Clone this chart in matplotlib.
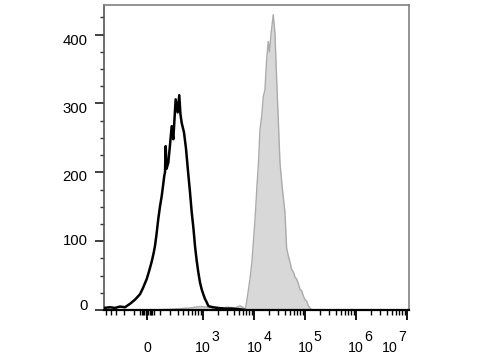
import numpy as np
import matplotlib
matplotlib.use("Agg")
import matplotlib.pyplot as plt
from matplotlib.ticker import FixedLocator, MultipleLocator, NullFormatter

plt.rcParams['font.family'] = ['Liberation Sans', 'DejaVu Sans']

# Unstained / control histogram (black outline)
ctrl_x = [-546, -410, -320, -248, -187, -135, -91, -51, -29, -2, 14.5, 34, 48, 59, 71,
          85, 99, 114, 126, 138, 145, 152, 160, 179, 198, 218, 238, 270, 300, 325, 344,
          366, 410, 451, 503, 545, 592, 643, 690, 745, 803, 869, 939, 1020, 1093, 1168,
          1269, 1371, 1571, 1970, 2700, 3720, 5330, 6650]
ctrl_y = [3, 4, 3, 5, 4, 9, 15, 23, 32, 45, 56, 70, 82, 93, 110,
          132, 150, 165, 180, 195, 200, 238, 205, 214, 240, 267, 248, 306, 287, 312, 285,
          272, 258, 235, 198, 172, 142, 118, 93, 72, 55, 40, 30, 22, 16, 12,
          6, 5, 4, 3, 2, 2, 1, 0]

# Stained histogram (gray filled)
stain_x = [22, 198, 338, 545, 866, 1371, 2160, 3100, 4240, 5330, 6080, 6650, 7140, 7650,
           8370, 9150, 10000, 10720, 11470, 12290, 13140, 14190, 15250, 16470, 17620,
           19100, 20170, 21590, 23940, 25850, 27920, 30290, 32420, 36260, 40580, 43820,
           47530, 50860, 54940, 59590, 63780, 68880, 74690, 79970, 86370, 93680, 100240,
           108240, 117300, 125600, 137600]
stain_y = [0, 1, 2, 3, 5, 4, 3, 4, 3, 6, 4, 0, 10, 25,
           45, 70, 110, 142, 180, 214, 262, 281, 310, 320, 360,
           390, 375, 400, 429, 402, 335, 270, 214, 175, 142, 90,
           78, 70, 59, 55, 48, 45, 38, 30, 28, 20, 15,
           13, 6, 3, 0]

x_major = [0, 1e3, 1e4, 1e5, 1e6, 1e7]
x_base = ['0', '10', '10', '10', '10', '10']
x_exp = ['', '3', '4', '5', '6', '7']
y_major = [0, 100, 200, 300, 400]

W = 160.0
def fwd(x):
    return np.arcsinh(np.asarray(x, dtype=float) / W)
def inv(y):
    return W * np.sinh(np.asarray(y, dtype=float))

PX = 72.0 / 100.0  # points per pixel

fig = plt.figure(figsize=(4.8, 3.6), dpi=100)
ax = fig.add_axes([104/480, 1-310/360, (409-104)/480, (310-5)/360])
ax.set_xscale('function', functions=(fwd, inv))

ax.fill_between(stain_x, stain_y, 0, color='#d8d8d8', lw=0, zorder=1)
ax.plot(stain_x, stain_y, color='#ababab', lw=1.0, zorder=2)
ax.plot(ctrl_x, ctrl_y, color='black', lw=1.8, zorder=3)

ax.set_xlim(-546, 1.1e7)
ax.set_ylim(0, 443)

# minor ticks
minor = [-500, -400, -300, -200, -100]
minor += list(range(-50, 51, 10))
minor += list(range(100, 1000, 100))
for k in range(3, 7):
    minor += [m * 10**k for m in range(2, 10)]
ax.xaxis.set_major_locator(FixedLocator(x_major))
ax.xaxis.set_minor_locator(FixedLocator(minor))
ax.xaxis.set_major_formatter(NullFormatter())
ax.yaxis.set_major_locator(FixedLocator(y_major))
ax.yaxis.set_minor_locator(MultipleLocator(25))
ax.yaxis.set_major_formatter(NullFormatter())

ax.tick_params(axis='x', which='major', length=7, width=1.3, color='black')
ax.tick_params(axis='x', which='minor', length=3.5, width=1.0, color='black')
ax.tick_params(axis='y', which='major', length=6.8, width=1.3, color='#333333')
ax.tick_params(axis='y', which='minor', length=2.8, width=1.0, color='#333333')

# x tick labels: "10" centred on tick, exponent raised at full size
x_shift_px = [0, 0, 1, 0.5, 0, -17]
xt = ax.get_xaxis_transform()
for v, b, e, sh in zip(x_major, x_base, x_exp, x_shift_px):
    ax.annotate(b, xy=(v, 0), xycoords=xt, xytext=(sh * PX, -38.3 * PX),
                textcoords='offset points', ha='center', va='center', fontsize=10.2,
                annotation_clip=False)
    if e:
        ax.annotate(e, xy=(v, 0), xycoords=xt, xytext=((sh + 8.3) * PX, -26.7 * PX),
                    textcoords='offset points', ha='left', va='center', fontsize=10.2,
                    annotation_clip=False)

# y tick labels (slightly offset as in the original)
y_shift_px = [4, 0, -4.7, -5.5, -6]
yt = ax.get_yaxis_transform()
for v, sh in zip(y_major, y_shift_px):
    ax.annotate(str(v), xy=(0, v), xycoords=yt, xytext=(-16.3 * PX, sh * PX),
                textcoords='offset points', ha='right', va='center', fontsize=10.7,
                annotation_clip=False)

for s in ['top', 'right']:
    ax.spines[s].set_color('#808080')
    ax.spines[s].set_linewidth(1.2)
ax.spines['left'].set_color('#555555')
ax.spines['left'].set_linewidth(1.2)
ax.spines['bottom'].set_color('black')
ax.spines['bottom'].set_linewidth(1.6)

fig.savefig('out.png', dpi=100)
